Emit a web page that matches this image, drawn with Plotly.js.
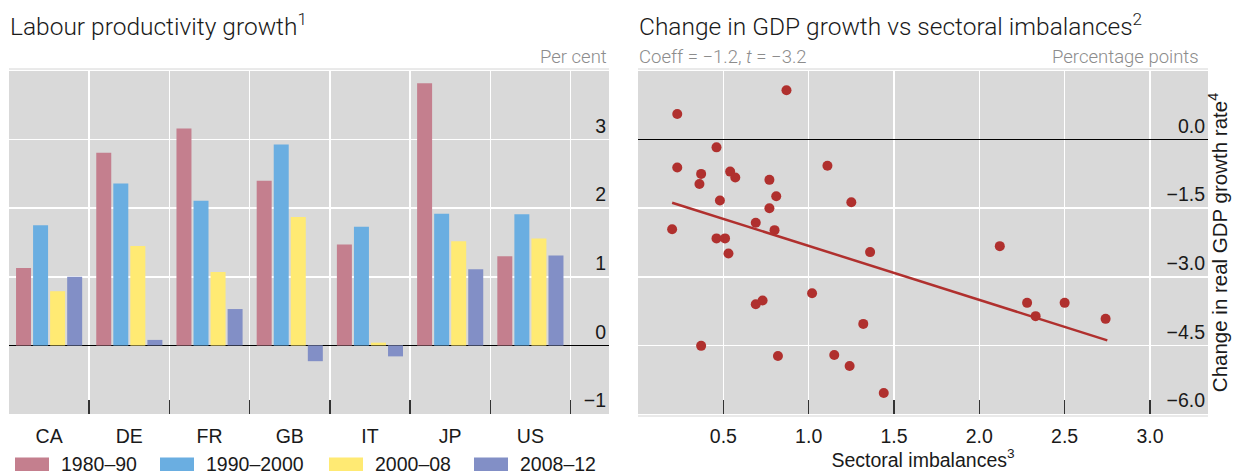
<!DOCTYPE html>
<html>
<head>
<meta charset="utf-8">
<script src="https://cdn.plot.ly/plotly-3.0.1.min.js"></script>
<style>
  html, body { margin: 0; padding: 0; background: #ffffff; }
  #chart { width: 1244px; height: 475px; }
</style>
</head>
<body>
<div id="chart"></div>
<script>
// ---------- Data: left panel (labour productivity growth, per cent) ----------
const categories = ['CA', 'DE', 'FR', 'GB', 'IT', 'JP', 'US'];
const seriesNames = ['1980–90', '1990–2000', '2000–08', '2008–12'];
const s1980_90   = [1.13, 2.81, 3.16, 2.40, 1.47, 3.82, 1.30];
const s1990_2000 = [1.75, 2.36, 2.11, 2.93, 1.73, 1.92, 1.91];
const s2000_08   = [0.79, 1.45, 1.07, 1.87, 0.04, 1.52, 1.56];
const s2008_12   = [1.00, 0.08, 0.53, -0.23, -0.16, 1.11, 1.31];
const leftTickVals = [-1, 0, 1, 2, 3];

// ---------- Data: right panel (GDP growth change vs sectoral imbalances) ----------
const imbalance = [0.23, 0.87, 0.46, 0.23, 0.37, 0.36, 0.54, 0.57, 0.77, 1.11,
                   0.48, 0.81, 0.77, 1.25, 0.20, 0.69, 0.80, 0.46, 0.51, 0.53,
                   1.36, 1.02, 0.69, 0.73, 1.32, 0.37, 0.82, 1.15, 1.24, 1.44,
                   2.12, 2.28, 2.33, 2.50, 2.74];
const gdpChange = [0.56, 1.08, -0.17, -0.61, -0.75, -0.97, -0.70, -0.83, -0.88, -0.57,
                   -1.33, -1.24, -1.50, -1.37, -1.96, -1.82, -1.98, -2.16, -2.16, -2.49,
                   -2.46, -3.36, -3.60, -3.52, -4.03, -4.51, -4.73, -4.71, -4.95, -5.54,
                   -2.33, -3.57, -3.86, -3.57, -3.92];
const fitX = [0.20, 2.75];
const fitY = [-1.38, -4.39];
const rightXTicks = [0.5, 1.0, 1.5, 2.0, 2.5, 3.0];
const rightYTicks = [-6.0, -4.5, -3.0, -1.5, 0.0];

// ---------- Styling ----------
const W = 1244, H = 475;
const colors = ['#c47f8e', '#6aaee1', '#ffea73', '#828fc6'];
const dotColor = '#b0302e';
const bg = '#d9d9d9';
const txt = '#1a1a1a';
const grayTxt = '#8c8c8c';
const tickFont = { family: 'Liberation Sans, Arial, sans-serif', size: 19.5, color: txt };
const xTitleFont = { family: 'Liberation Sans, Arial, sans-serif', size: 19.5, color: txt };
const yTitleFont = { family: 'Liberation Sans, Arial, sans-serif', size: 20.5, color: txt };
const headFont = { family: 'Roboto, Liberation Sans, sans-serif', size: 24.5, color: txt, weight: 300 };
const subFont = { family: 'Roboto, Liberation Sans, sans-serif', size: 18.5, color: grayTxt, weight: 300 };

const px = v => v / W;
const py = v => 1 - v / H;

const plotTop = 71, plotBottom = 414;
const yDom = [py(plotBottom), py(plotTop)];
const leftDom = [px(9), px(609)];
const rightDom = [px(638), px(1208)];

const seriesData = [s1980_90, s1990_2000, s2000_08, s2008_12];
const traces = seriesData.map((vals, i) => ({
  type: 'bar', x: categories, y: vals, name: seriesNames[i],
  marker: { color: colors[i], line: { width: 0 } },
  xaxis: 'x', yaxis: 'y', showlegend: false
}));

traces.push({
  type: 'scatter', mode: 'markers', x: imbalance, y: gdpChange,
  marker: { color: dotColor, size: 10 }, xaxis: 'x2', yaxis: 'y2', showlegend: false
});
traces.push({
  type: 'scatter', mode: 'lines', x: fitX, y: fitY,
  line: { color: dotColor, width: 2.5 }, xaxis: 'x2', yaxis: 'y2', showlegend: false
});

// custom legend
const legendX = [15, 160, 329, 474];
const shapes = [];
const annotations = [];
seriesNames.forEach((n, i) => {
  shapes.push({ type: 'rect', xref: 'paper', yref: 'paper',
    x0: px(legendX[i]), x1: px(legendX[i] + 34), y0: py(471), y1: py(457.5),
    fillcolor: colors[i], line: { width: 0 } });
  annotations.push({ xref: 'paper', yref: 'paper', x: px(legendX[i] + 44), y: py(464),
    xanchor: 'left', yanchor: 'middle', showarrow: false, text: n, font: tickFont });
});

// top rules
shapes.push({ type: 'line', xref: 'paper', yref: 'paper', x0: leftDom[0], x1: leftDom[1], y0: py(69), y1: py(69), line: { color: '#d4d4d4', width: 1 } });
shapes.push({ type: 'line', xref: 'paper', yref: 'paper', x0: rightDom[0], x1: rightDom[1], y0: py(69), y1: py(69), line: { color: '#d4d4d4', width: 1 } });
shapes.push({ type: 'line', xref: 'paper', yref: 'paper', x0: rightDom[0], x1: rightDom[1], y0: py(416), y1: py(416), line: { color: '#d4d4d4', width: 1 } });

annotations.push({ xref: 'paper', yref: 'paper', x: px(8), y: py(25), xanchor: 'left', yanchor: 'middle',
  showarrow: false, text: 'Labour productivity growth<sup>1</sup>', font: headFont });
annotations.push({ xref: 'paper', yref: 'paper', x: px(637), y: py(25), xanchor: 'left', yanchor: 'middle',
  showarrow: false, text: 'Change in GDP growth vs sectoral imbalances<sup>2</sup>', font: headFont });
annotations.push({ xref: 'paper', yref: 'paper', x: px(609), y: py(57), xanchor: 'right', yanchor: 'middle',
  showarrow: false, text: 'Per cent', font: subFont });
annotations.push({ xref: 'paper', yref: 'paper', x: px(637), y: py(57), xanchor: 'left', yanchor: 'middle',
  showarrow: false, text: 'Coeff = −1.2, <i>t</i> = −3.2', font: subFont });
annotations.push({ xref: 'paper', yref: 'paper', x: px(1201), y: py(57), xanchor: 'right', yanchor: 'middle',
  showarrow: false, text: 'Percentage points', font: subFont });

const layout = {
  width: W, height: H,
  margin: { l: 0, r: 0, t: 0, b: 0, pad: 0 },
  paper_bgcolor: '#ffffff',
  plot_bgcolor: bg,
  showlegend: false,
  barmode: 'group', bargap: 0.15, bargroupgap: 0.12,
  font: tickFont,
  xaxis: {
    domain: leftDom, anchor: 'y', type: 'category', range: [-0.5, 6.98],
    tickson: 'boundaries',
    showgrid: true, gridcolor: '#ffffff', gridwidth: 1.5, zeroline: false, showline: false,
    ticks: 'inside', ticklen: 14, tickwidth: 1.5, tickcolor: '#333333',
    tickfont: tickFont, ticklabelstandoff: 8, automargin: false
  },
  yaxis: {
    domain: yDom, anchor: 'x', range: [-1, 4], side: 'right',
    tickvals: leftTickVals, ticklabelposition: 'inside top', ticks: '',
    showgrid: true, gridcolor: '#ffffff', gridwidth: 1.5,
    zeroline: true, zerolinecolor: '#000000', zerolinewidth: 1.5,
    tickfont: tickFont, automargin: false
  },
  xaxis2: {
    domain: rightDom, anchor: 'y2', range: [0, 3.34],
    tickvals: rightXTicks, tickformat: '.1f',
    showgrid: true, gridcolor: '#ffffff', gridwidth: 1.5, zeroline: false,
    ticks: 'inside', ticklen: 14, tickwidth: 1.5, tickcolor: '#333333',
    tickfont: tickFont, ticklabelstandoff: 8, automargin: false,
    title: { text: 'Sectoral imbalances<sup>3</sup>', font: xTitleFont, standoff: 0 }
  },
  yaxis2: {
    domain: yDom, anchor: 'x2', range: [-6, 1.5], side: 'right',
    tickvals: rightYTicks, tickformat: '.1f', ticklabelposition: 'inside top', ticks: '',
    showgrid: true, gridcolor: '#ffffff', gridwidth: 1.5,
    zeroline: true, zerolinecolor: '#000000', zerolinewidth: 1.5,
    tickfont: tickFont, automargin: false,
    title: { text: 'Change in real GDP growth rate<sup>4</sup>', font: yTitleFont, standoff: 5 }
  },
  shapes: shapes,
  annotations: annotations
};

Plotly.newPlot('chart', traces, layout, { displayModeBar: false, staticPlot: true });
</script>
</body>
</html>
